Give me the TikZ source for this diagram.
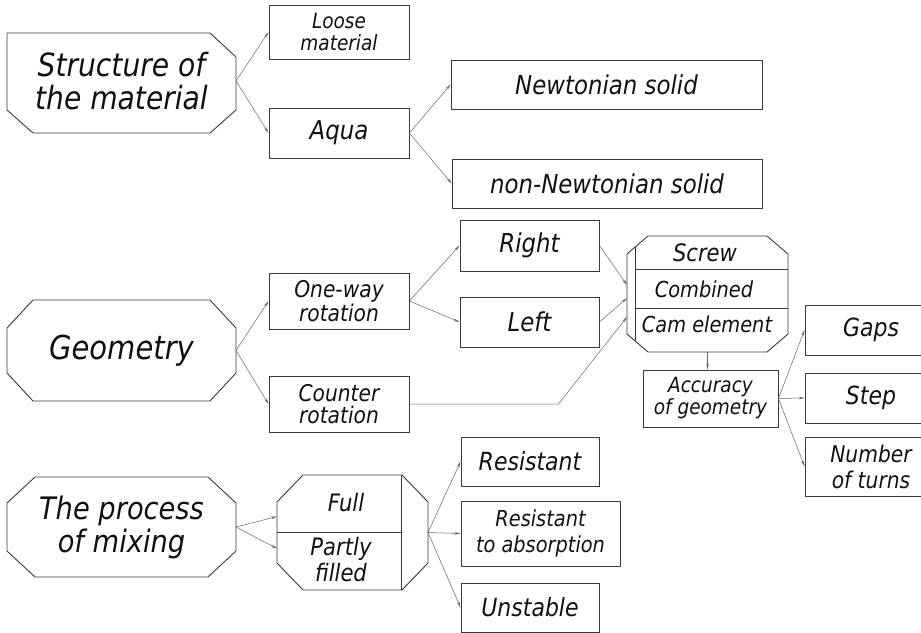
\documentclass[tikz,border=0pt]{standalone}
\usepackage{fontspec}
\newfontfamily\cadfont{DejaVu Sans}[FakeStretch=0.88]
\usetikzlibrary{arrows.meta}
\newcommand\cadfs[2]{\cadfont\itshape\fontsize{#1}{#2}\selectfont}
\definecolor{linec}{HTML}{3A3A3A}
\definecolor{connc}{HTML}{666666}
\definecolor{txtc}{HTML}{111111}
\newcommand\octo[3]{\draw[shapeline] ([xshift=#2]#1.north west) -- ([xshift=-#2]#1.north east) -- ([yshift=-#3]#1.north east) -- ([yshift=#3]#1.south east) -- ([xshift=-#2]#1.south east) -- ([xshift=#2]#1.south west) -- ([yshift=#3]#1.south west) -- ([yshift=-#3]#1.north west) -- cycle;}
\tikzset{
  shapeline/.style={draw=linec, line width=0.9pt, line join=miter},
  box/.style={draw=linec, line width=0.9pt, rectangle, inner sep=0pt, align=center, text=txtc},
  ghost/.style={rectangle, inner sep=0pt, outer sep=0pt, align=center, text=txtc},
  txt/.style={inner sep=0pt, align=center, text=txtc},
  conn/.style={draw=connc, line width=0.5pt, -{Stealth[length=6pt,width=2.6pt]}},
}
\begin{document}
\begin{tikzpicture}[x=1pt,y=-1pt]
\useasboundingbox (0,0) rectangle (921,632);
\fill[white] (0,0) rectangle (921,632);
\clip (0,0) rectangle (921,632);

% ---------- Structure of the material ----------
\node[ghost, minimum width=229pt, minimum height=100pt, font=\cadfs{32}{33}] (struct) at (121.5,81) {Structure of\\the material};
\draw[shapeline] (7,33) -- (210,33) -- (236,57) -- (236,110) -- (210,133) -- (33,133) -- (7,110) -- (7,57) -- cycle;
\node[box, minimum width=140pt, minimum height=54pt, font=\cadfs{21}{22}] (loose) at (339,32) {Loose\\material};
\node[box, minimum width=140pt, minimum height=50pt, font=\cadfs{26}{28}] (aqua) at (339,133) {Aqua};
\node[box, minimum width=311pt, minimum height=49pt, font=\cadfs{26}{28}] (newton) at (606.5,84.5) {Newtonian solid};
\node[box, minimum width=310pt, minimum height=49pt, font=\cadfs{26}{28}] (nonnewton) at (607,183.5) {non-Newtonian solid};

% ---------- Geometry ----------
\node[ghost, minimum width=229pt, minimum height=101pt, font=\cadfs{33}{35}] (geom) at (121.5,350.5) {Geometry};
\octo{geom}{26pt}{28pt}
\node[box, minimum width=140pt, minimum height=56pt, font=\cadfs{23}{22}] (oneway) at (339,301) {One-way\\rotation};
\node[box, minimum width=140pt, minimum height=56pt, font=\cadfs{23}{22}] (counter) at (339,404) {Counter\\rotation};
\node[box, minimum width=139pt, minimum height=51pt, font=\cadfs{26}{28}] (right) at (529.5,245.5) {Right};
\node[box, minimum width=139pt, minimum height=50pt, font=\cadfs{26}{28}] (left) at (529.5,322) {Left};

% screw block
\node[ghost, minimum width=161pt, minimum height=116pt] (screw) at (707.5,294) {};
\octo{screw}{21pt}{18pt}
\draw[shapeline] ([xshift=8pt,yshift=-11pt]screw.north west) -- ([xshift=8pt,yshift=11pt]screw.south west);
\draw[shapeline] ([xshift=8pt,yshift=-33pt]screw.north west) -- ([yshift=-33pt]screw.north east);
\draw[shapeline] ([xshift=8pt,yshift=-72pt]screw.north west) -- ([yshift=-72pt]screw.north east);
\node[txt, font=\cadfs{24}{26}] (screwt) at (705,253) {Screw};
\node[txt, font=\cadfs{22}{24}] (combt) at (704,289) {Combined};
\node[txt, font=\cadfs{22}{24}] (camt) at (707,324) {Cam element};

\node[box, minimum width=135pt, minimum height=57pt, font=\cadfs{21}{22}] (acc) at (710.5,398.5) {Accuracy\\of geometry};
\node[box, minimum width=132pt, minimum height=50pt, font=\cadfs{25}{27}] (gaps) at (871,330) {Gaps};
\node[box, minimum width=132pt, minimum height=50pt, font=\cadfs{25}{27}] (step) at (871,398) {Step};
\node[box, minimum width=132pt, minimum height=59pt, font=\cadfs{23}{26}] (turns) at (871,466.5) {Number\\of turns};

% ---------- The process of mixing ----------
\node[ghost, minimum width=229pt, minimum height=100pt, font=\cadfs{31}{33}] (mixing) at (121.5,527) {The process\\of mixing};
\octo{mixing}{28pt}{26pt}
\node[ghost, minimum width=151pt, minimum height=115pt] (full) at (352.5,532.5) {};
\octo{full}{26pt}{27pt}
\draw[shapeline] ([xshift=-27pt]full.north east) -- ([xshift=-27pt]full.south east);
\draw[shapeline] (full.west) -- ([xshift=-27pt]full.east);
\node[txt, font=\cadfs{24}{26}] (fullt) at (346,503) {Full};
\node[txt, font=\cadfs{24}{26}] (partt) at (341,560) {Partly\\filled};

\node[box, minimum width=138pt, minimum height=49pt, font=\cadfs{25}{27}] (resist) at (530,461.5) {Resistant};
\node[box, minimum width=159pt, minimum height=65pt, font=\cadfs{22}{26}] (rta) at (540.5,533.5) {Resistant\\to absorption};
\node[box, minimum width=138pt, minimum height=49pt, font=\cadfs{25}{27}] (unst) at (530,607.5) {Unstable};

% ---------- connectors ----------
\draw[conn] (struct.east) -- (loose.west);
\draw[conn] (struct.east) -- (aqua.west);
\draw[conn] (aqua.east) -- (newton.west);
\draw[conn] (aqua.east) -- (nonnewton.west);

\draw[conn] (geom.east) -- (oneway.west);
\draw[conn] (geom.east) -- (counter.west);
\draw[conn] (oneway.east) -- (right.west);
\draw[conn] (oneway.east) -- (left.west);
\draw[conn] (right.east) -- ([yshift=9pt]screw.west);
\draw[conn] (left.east) -- ([yshift=-4pt]screw.west);
\draw[conn] (counter.east) -- ++(149,0) -- ([yshift=-23pt]screw.west);
\draw[conn] (screw.south) -- (screw.south |- acc.north);
\draw[conn] (acc.east) -- (gaps.west);
\draw[conn] (acc.east) -- (step.west);
\draw[conn] (acc.east) -- (turns.west);

\draw[conn] (mixing.east) -- ([yshift=16pt]full.west);
\draw[conn] (mixing.east) -- ([yshift=-16pt]full.west);
\draw[conn] (full.east) -- (resist.west);
\draw[conn] (full.east) -- (rta.west);
\draw[conn] (full.east) -- (unst.west);
\end{tikzpicture}
\end{document}
